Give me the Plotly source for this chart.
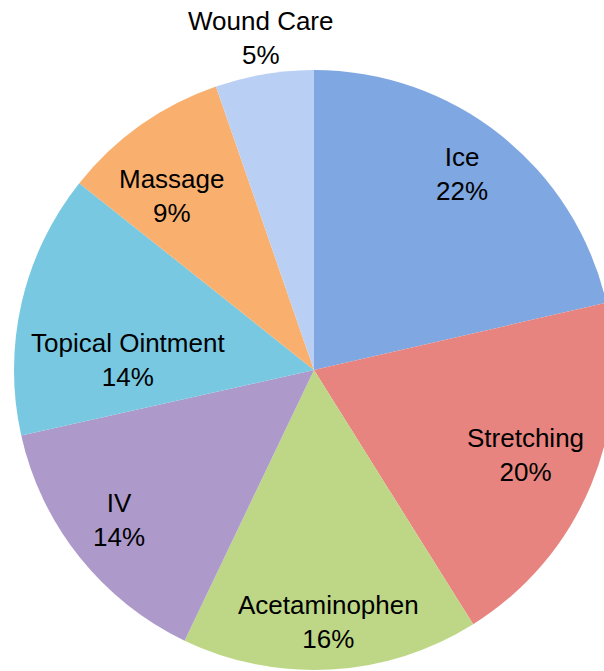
import math
import plotly.graph_objects as go

categories = ["Ice", "Stretching", "Acetaminophen", "IV", "Topical Ointment", "Massage", "Wound Care"]
# slice shares (percent of the circle)
values = [21.4, 19.7, 16.0, 14.4, 14.2, 9.0, 5.3]
# percentage labels as printed on the chart
percent_labels = ["22%", "20%", "16%", "14%", "14%", "9%", "5%"]
colors = ["#7fa7e1", "#e7847f", "#bdd786", "#ad9acb", "#77c8e0", "#f9b06f", "#b9cff3"]

# label placement style: radial fraction of radius and angular offset (deg)
label_radius = [0.82, 0.76, 0.84, 0.82, 0.62, 0.75, 1.12]
label_angle_offset = [-1.4, -0.7, 0.0, 1.0, -10.0, -4.0, 0.5]

W, H = 620, 671
cx, cy, r = 314, 370, 300
FONT = "Liberation Sans, Arial, sans-serif"

fig = go.Figure(go.Pie(
    labels=categories,
    values=values,
    sort=False,
    direction="clockwise",
    rotation=0,
    marker=dict(colors=colors, line=dict(width=0)),
    textposition="none",
    hoverinfo="label",
    showlegend=False,
    domain=dict(x=[(cx - r) / W, (cx + r) / W], y=[(H - cy - r) / H, (H - cy + r) / H]),
))

total = sum(values)
cum = 0.0
annotations = []
for cat, v, pl, rf, off in zip(categories, values, percent_labels, label_radius, label_angle_offset):
    mid = (cum + v / 2) / total * 360 + off
    cum += v
    a = math.radians(mid)
    px = cx + rf * r * math.sin(a)
    py = cy - rf * r * math.cos(a)
    annotations.append(dict(
        x=px / W, y=1 - py / H, xref="paper", yref="paper",
        text=f"{cat}<br>{pl}", showarrow=False,
        xanchor="center", yanchor="middle",
        font=dict(family=FONT, size=26, color="#000000"),
    ))

fig.update_layout(
    width=W, height=H,
    margin=dict(l=0, r=0, t=0, b=0),
    paper_bgcolor="white",
    plot_bgcolor="white",
    annotations=annotations,
)

fig.write_html(
    "out.html",
    config={"displayModeBar": False},
    post_script="document.body.style.margin='0';document.body.style.overflow='hidden';document.documentElement.style.overflow='hidden';",
)
